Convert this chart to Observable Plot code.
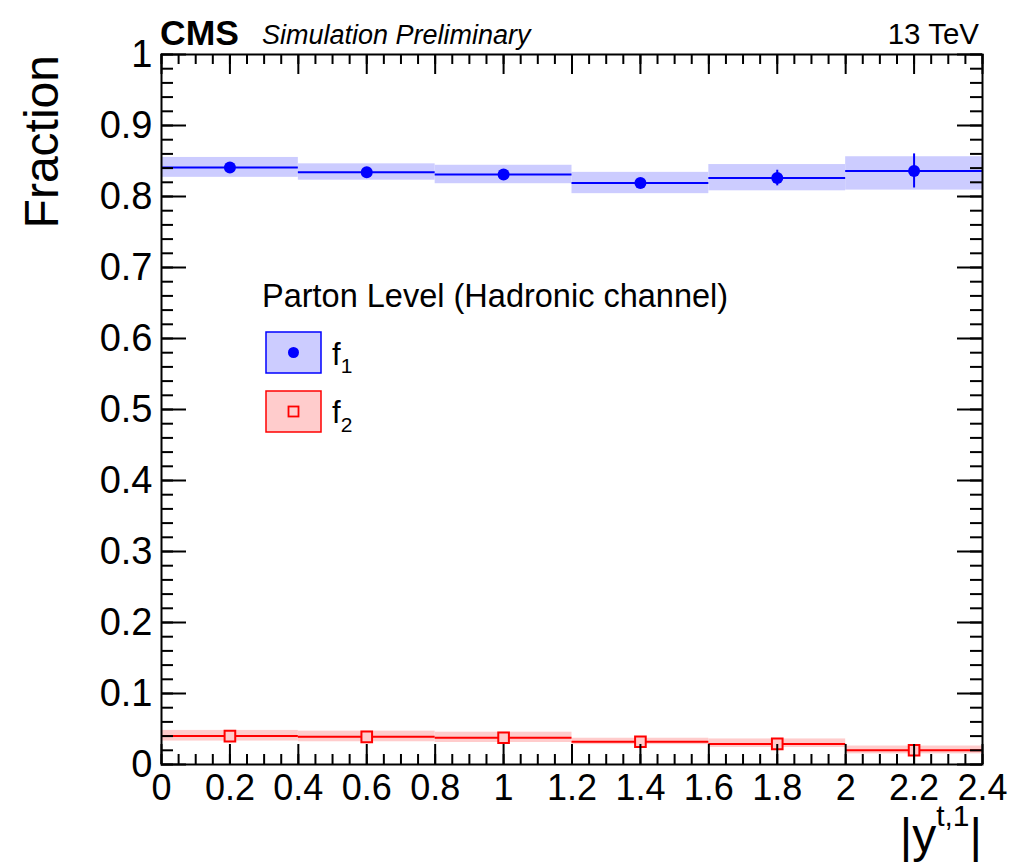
<!DOCTYPE html>
<html>
<head>
<meta charset="utf-8">
<script src="https://cdn.jsdelivr.net/npm/d3@7"></script>
<script src="https://cdn.jsdelivr.net/npm/@observablehq/plot@0.6"></script>
<style>
  html, body { margin: 0; padding: 0; background: white; }
  #chart { position: relative; width: 1015px; height: 863px; }
</style>
</head>
<body>
<div id="chart"></div>
<script>
// ---- data ----
const binLo     = [0.0, 0.4, 0.8, 1.2, 1.6, 2.0];
const binHi     = [0.4, 0.8, 1.2, 1.6, 2.0, 2.4];
const binCenter = [0.2, 0.6, 1.0, 1.4, 1.8, 2.2];

const f1Val    = [0.841, 0.834, 0.831, 0.819, 0.826, 0.836];
const f1Err    = [0.003, 0.003, 0.004, 0.005, 0.011, 0.024];
const f1BandLo = [0.827, 0.823, 0.818, 0.804, 0.808, 0.809];
const f1BandHi = [0.855, 0.846, 0.844, 0.834, 0.845, 0.856];

const f2Val    = [0.040, 0.039, 0.0376, 0.032, 0.029, 0.020];
const f2Err    = [0.002, 0.002, 0.002, 0.002, 0.002, 0.002];
const f2BandLo = [0.033, 0.032, 0.031, 0.028, 0.024, 0.015];
const f2BandHi = [0.048, 0.047, 0.0455, 0.037, 0.036, 0.026];

const yMajor = [0, 0.1, 0.2, 0.3, 0.4, 0.5, 0.6, 0.7, 0.8, 0.9, 1];
const yTickLabels = ["0", "0.1", "0.2", "0.3", "0.4", "0.5", "0.6", "0.7", "0.8", "0.9", "1"];
const xMajor = [0, 0.2, 0.4, 0.6, 0.8, 1.0, 1.2, 1.4, 1.6, 1.8, 2.0, 2.2, 2.4];
const xTickLabels = ["0", "0.2", "0.4", "0.6", "0.8", "1", "1.2", "1.4", "1.6", "1.8", "2", "2.2", "2.4"];
const yMinor = d3.range(0, 50).map(i => i * 0.02).concat([1]);
const xMinor = d3.range(0, 49).map(i => i * 0.05);

// ---- build rows ----
const f1 = binLo.map((lo, i) => ({lo, hi: binHi[i], c: binCenter[i], v: f1Val[i], e: f1Err[i], bl: f1BandLo[i], bh: f1BandHi[i]}));
const f2 = binLo.map((lo, i) => ({lo, hi: binHi[i], c: binCenter[i], v: f2Val[i], e: f2Err[i], bl: f2BandLo[i], bh: f2BandHi[i]}));
const yLab = new Map(yMajor.map((d, i) => [d, yTickLabels[i]]));
const xLab = new Map(xMajor.map((d, i) => [d, xTickLabels[i]]));

const W = 1015, H = 863;
const mL = 161, mR = 33, mT = 54, mB = 99;
const pW = W - mL - mR, pH = H - mT - mB;
const BLUE = "#0000ff", BLUEBAND = "#ccccff", RED = "#ff0000", REDBAND = "#ffcccc";
const FONT = "'Liberation Sans', Arial, Helvetica, sans-serif";

const plot = Plot.plot({
  width: W, height: H,
  marginLeft: mL, marginRight: mR, marginTop: mT, marginBottom: mB,
  style: {fontFamily: FONT, fontSize: "38px", background: "white", color: "black", overflow: "visible"},
  x: {domain: [0, 2.4], label: null},
  y: {domain: [0, 1], label: null},
  marks: [
    // bands
    Plot.rect(f1, {x1: "lo", x2: "hi", y1: "bl", y2: "bh", fill: BLUEBAND}),
    Plot.rect(f2, {x1: "lo", x2: "hi", y1: "bl", y2: "bh", fill: REDBAND}),
    // central lines
    Plot.ruleY(f1, {y: "v", x1: "lo", x2: "hi", stroke: BLUE, strokeWidth: 2}),
    Plot.ruleY(f2, {y: "v", x1: "lo", x2: "hi", stroke: RED, strokeWidth: 2}),
    // error bars
    Plot.ruleX(f1, {x: "c", y1: d => d.v - d.e, y2: d => d.v + d.e, stroke: BLUE, strokeWidth: 2}),
    Plot.ruleX(f2, {x: "c", y1: d => d.v - d.e, y2: d => d.v + d.e, stroke: RED, strokeWidth: 2}),
    // markers
    Plot.dot(f1, {x: "c", y: "v", r: 6, fill: BLUE, stroke: null}),
    Plot.dot(f2, {x: "c", y: "v", r: 6, symbol: "square", fill: REDBAND, stroke: RED, strokeWidth: 2}),
    // inward ticks: left / right
    Plot.tickY(yMajor, {y: d => d, insetRight: pW - 25, stroke: "black", strokeWidth: 2}),
    Plot.tickY(yMinor, {y: d => d, insetRight: pW - 12, stroke: "black", strokeWidth: 2}),
    Plot.tickY(yMajor, {y: d => d, insetLeft: pW - 25, stroke: "black", strokeWidth: 2}),
    Plot.tickY(yMinor, {y: d => d, insetLeft: pW - 12, stroke: "black", strokeWidth: 2}),
    // inward ticks: bottom / top
    Plot.tickX(xMajor, {x: d => d, insetTop: pH - 20, stroke: "black", strokeWidth: 2}),
    Plot.tickX(xMinor, {x: d => d, insetTop: pH - 10, stroke: "black", strokeWidth: 2}),
    Plot.tickX(xMajor, {x: d => d, insetBottom: pH - 20, stroke: "black", strokeWidth: 2}),
    Plot.tickX(xMinor, {x: d => d, insetBottom: pH - 10, stroke: "black", strokeWidth: 2}),
    // axes labels
    Plot.axisY({ticks: yMajor, tickSize: 0, tickPadding: 9, tickFormat: d => yLab.get(d), fontSize: 38}),
    Plot.axisX({ticks: xMajor, tickSize: 0, tickPadding: 10, tickFormat: d => xLab.get(d), fontSize: 36}),
    Plot.frame({stroke: "black", strokeWidth: 2})
  ]
});

document.getElementById("chart").appendChild(plot);

// ---- annotations (header, titles, legend) ----
const svg = d3.select(plot);
const g = svg.append("g").attr("font-family", FONT).attr("fill", "black").attr("text-anchor", "start");

g.append("text").attr("x", 160).attr("y", 45).attr("font-size", 35.5).attr("font-weight", "bold").text("CMS");
g.append("text").attr("x", 262).attr("y", 44).attr("font-size", 27).attr("font-style", "italic").text("Simulation Preliminary");
g.append("text").attr("x", 979).attr("y", 44).attr("font-size", 29.5).attr("text-anchor", "end").text("13 TeV");

// y title
g.append("text").attr("transform", "translate(58,55) rotate(-90)").attr("text-anchor", "end")
  .attr("font-size", 48).text("Fraction");

// x title |y^{t,1}|
const xt = g.append("text").attr("x", 982).attr("y", 852).attr("text-anchor", "end").attr("font-size", 48);
xt.append("tspan").text("|y");
xt.append("tspan").attr("font-size", 30).attr("dy", -26).text("t,1");
xt.append("tspan").attr("dy", 26).text("|");

// legend
g.append("text").attr("x", 262).attr("y", 307).attr("font-size", 32.5).text("Parton Level (Hadronic channel)");
const lg = g.append("g");
lg.append("rect").attr("x", 266).attr("y", 332).attr("width", 55).attr("height", 41)
  .attr("fill", BLUEBAND).attr("stroke", BLUE).attr("stroke-width", 1.5);
lg.append("circle").attr("cx", 293.5).attr("cy", 352.5).attr("r", 5.5).attr("fill", BLUE);
lg.append("rect").attr("x", 266).attr("y", 391).attr("width", 55).attr("height", 41)
  .attr("fill", REDBAND).attr("stroke", RED).attr("stroke-width", 1.5);
lg.append("rect").attr("x", 288.5).attr("y", 406.5).attr("width", 10).attr("height", 10)
  .attr("fill", "none").attr("stroke", RED).attr("stroke-width", 1.8);

const t1 = lg.append("text").attr("x", 332).attr("y", 365).attr("font-size", 31);
t1.append("tspan").text("f");
t1.append("tspan").attr("font-size", 21).attr("dy", 8).text("1");
const t2 = lg.append("text").attr("x", 332).attr("y", 423).attr("font-size", 31);
t2.append("tspan").text("f");
t2.append("tspan").attr("font-size", 21).attr("dy", 9).text("2");
</script>
</body>
</html>
